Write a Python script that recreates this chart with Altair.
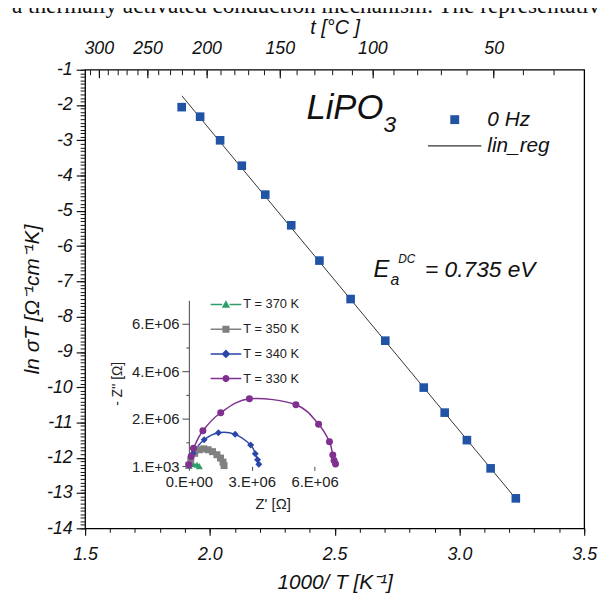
import altair as alt
import pandas as pd

FONT = "Liberation Sans"
SERIF = "Liberation Serif"
BLUE = "#2154A5"
INK = "#111111"

# ---------------- main Arrhenius data ----------------
inv_T = [1.887, 1.961, 2.041, 2.128, 2.222, 2.326, 2.439, 2.564, 2.703, 2.857, 2.941, 3.030, 3.125, 3.226]
ln_sigmaT = [-2.06, -2.33, -3.00, -3.72, -4.54, -5.41, -6.41, -7.50, -8.68, -10.01, -10.72, -11.50, -12.30, -13.15]
fit_inv_T = [1.888, 3.239]
fit_ln_sigmaT = [-1.74, -13.27]

# ---------------- axis ticks ----------------
x_major = [1.5, 2.0, 2.5, 3.0, 3.5]
x_minor = [round(1.5 + 0.1 * i, 1) for i in range(21)]
y_major = [float(v) for v in range(-1, -15, -1)]
y_minor = [round(-1 - 0.1 * i, 1) for i in range(131)]
t_major = [300, 250, 200, 150, 100, 50]
t_minor = list(range(310, 0, -10))
top_domain = [1.698, 3.404]

# ---------------- inset Nyquist data (units of 1e6 Ohm) ----------------
inset_names = ["T = 370 K", "T = 350 K", "T = 340 K", "T = 330 K"]
inset_colors = ["#2E9E6A", "#808080", "#2B45A8", "#80308F"]
re_370 = [0.0, 0.18, 0.39, 0.50]
im_370 = [0.02, 0.10, 0.07, 0.01]
re_350 = [0.0, 0.09, 0.28, 0.50, 0.71, 0.92, 1.13, 1.34, 1.51, 1.63, 1.68]
im_350 = [0.05, 0.26, 0.55, 0.70, 0.74, 0.70, 0.62, 0.49, 0.35, 0.18, 0.03]
re_340 = [0.02, 0.20, 0.73, 1.41, 2.21, 2.95, 3.17, 3.28, 3.34]
im_340 = [0.05, 0.55, 1.12, 1.42, 1.35, 0.90, 0.53, 0.28, 0.09]
re_330 = [0.0, 0.11, 0.22, 0.67, 1.52, 2.89, 5.11, 6.19, 6.71, 6.87, 6.93, 7.00]
im_330 = [0.07, 0.42, 0.76, 1.50, 2.26, 2.85, 2.60, 1.78, 1.04, 0.48, 0.25, 0.10]
inset_y_major = [1e3, 2e6, 4e6, 6e6]
inset_y_minor = [1e6, 3e6, 5e6]
inset_x_major = [0, 3e6, 6e6]

main_legend_names = ["0 Hz", "lin_reg"]
main_legend_colors = [BLUE, "#333333"]

# annotation pieces: text, x (1000/T), y (ln sigma T), font size
ann_text = ["LiPO", "3", "E", "a", "DC", "= 0.735 eV"]
ann_x = [2.387, 2.696, 2.656, 2.724, 2.755, 2.862]
ann_y = [-2.392, -2.765, -6.882, -7.106, -6.490, -6.882]
ann_size = [35, 23, 24, 16, 12, 23]

header_text = "a thermally activated conduction mechanism. The representative"

# ---------------- tables ----------------
main_df = pd.DataFrame({"inv_T": inv_T, "ln_sT": ln_sigmaT})
fit_df = pd.DataFrame({"inv_T": fit_inv_T, "ln_sT": fit_ln_sigmaT})
top_major_df = pd.DataFrame({"u": [1000.0 / (t + 273.15) for t in t_major]})
top_minor_df = pd.DataFrame({"u": [1000.0 / (t + 273.15) for t in t_minor]})
rows = []
for name, re, im in zip(inset_names, [re_370, re_350, re_340, re_330], [im_370, im_350, im_340, im_330]):
    for i, (a, b) in enumerate(zip(re, im)):
        rows.append({"name": name, "re": a * 1e6, "im": b * 1e6, "idx": i})
inset_df = pd.DataFrame(rows)
ann_df = pd.DataFrame({"text": ann_text, "x": ann_x, "y": ann_y, "fs": ann_size})
legend_df = pd.DataFrame({"name": main_legend_names})
header_df = pd.DataFrame({"text": [header_text]})

# ---------------- scales ----------------
W, H = 505, 464
X_MAIN = alt.Scale(domain=[1.5, 3.5], nice=False, zero=False)
Y_MAIN = alt.Scale(domain=[-14, -1], nice=False, zero=False)
X_TOP = alt.Scale(domain=top_domain, nice=False, zero=False)
X_IN = alt.Scale(domain=[0, 8e6], range=[105, 274.6], nice=False, zero=False)
Y_IN = alt.Scale(domain=[0, 7e6], range=[401.3, 233.3], nice=False, zero=False)
IN_X_OFFSET = -(H - 401.3)

common = dict(grid=False, tickColor=INK, labelColor=INK, titleColor=INK, labelFont=FONT, titleFont=FONT,
              titleFontWeight="normal", labelOverlap=False, labelFlush=False)

ax_bottom_major = alt.Axis(orient="bottom", values=x_major, format=".1f", tickSize=7, tickWidth=1.2,
                           domain=False, labelFontSize=18, labelFontStyle="italic", labelPadding=11,
                           title="1000/ T [K⁻¹]", titleFontSize=21, titleFontStyle="italic",
                           titlePadding=8, **common)
ax_bottom_minor = alt.Axis(orient="bottom", values=x_minor, tickSize=4, tickWidth=1, labels=False,
                           domain=False, title=None, grid=False, tickColor=INK)
ax_left_major = alt.Axis(orient="left", values=y_major, labelExpr="'' + datum.value", tickSize=9,
                         tickWidth=1.2, domain=False, labelFontSize=18, labelFontStyle="italic",
                         labelPadding=4, title="ln σT [Ω⁻¹cm⁻¹K]", titleFontSize=21,
                         titleFontStyle="italic", titlePadding=4, **common)
ax_left_minor = alt.Axis(orient="left", values=y_minor, tickSize=5, tickWidth=1, labels=False,
                         domain=False, title=None, grid=False, tickColor=INK)
ax_top_major = alt.Axis(orient="top", values=list(top_major_df["u"]), offset=-8, tickSize=8, tickWidth=1.2,
                        domain=False, labelExpr="format(1000 / datum.value - 273.15, '.0f')",
                        labelFontSize=18, labelFontStyle="italic", labelPadding=12,
                        title="t [°C ]", titleFontSize=20, titleFontStyle="italic", titlePadding=3, **common)
ax_top_minor = alt.Axis(orient="top", values=list(top_minor_df["u"]), offset=-5, tickSize=5, tickWidth=1,
                        labels=False, domain=False, title=None, grid=False, tickColor=INK)

sci = ("datum.value < 1 ? '0.E+00' : format(datum.value / pow(10, floor(log(datum.value) / LN10 + 1e-9)), '.0f')"
       " + '.E+' + format(floor(log(datum.value) / LN10 + 1e-9), '02d')")
in_common = dict(grid=False, tickColor="#444444", labelColor="#222222", titleColor="#222222", labelFont=FONT,
                 titleFont=FONT, titleFontWeight="normal", labelOverlap=False, labelFlush=False)
ax_in_x_major = alt.Axis(orient="bottom", offset=IN_X_OFFSET, values=inset_x_major, labelExpr=sci, tickSize=4,
                         domain=False, labelFontSize=15, labelPadding=4, title="Z' [Ω]",
                         titleFontSize=15, titlePadding=8, **in_common)
ax_in_y_major = alt.Axis(orient="left", offset=-105, values=inset_y_major, labelExpr=sci, tickSize=7,
                         domain=True, domainColor="#444444", labelFontSize=15, labelPadding=3,
                         title="- Z'' [Ω]", titleFontSize=14, titlePadding=7, **in_common)
ax_in_x_minor = alt.Axis(orient="bottom", offset=IN_X_OFFSET, values=inset_x_major, tickSize=0, labels=False,
                         domain=False, title=None, grid=False)
ax_in_y_minor = alt.Axis(orient="left", offset=-105, values=inset_y_minor, tickSize=3, labels=False,
                         domain=False, title=None, grid=False, tickColor="#444444")

# ---------------- layers ----------------
points = alt.Chart(main_df).mark_square(size=76, color=BLUE, opacity=1).encode(
    x=alt.X("inv_T:Q", scale=X_MAIN, axis=ax_bottom_major),
    y=alt.Y("ln_sT:Q", scale=Y_MAIN, axis=ax_left_major),
)
fitline = alt.Chart(fit_df).mark_line(color="#333333", strokeWidth=1).encode(
    x=alt.X("inv_T:Q", scale=X_MAIN, axis=ax_bottom_minor),
    y=alt.Y("ln_sT:Q", scale=Y_MAIN, axis=ax_left_minor),
)
top_major = alt.Chart(top_major_df).mark_point(opacity=0).encode(
    x=alt.X("u:Q", scale=X_TOP, axis=ax_top_major))
top_minor = alt.Chart(top_minor_df).transform_filter(
    f"datum.u <= {top_domain[1]}").mark_point(opacity=0).encode(
    x=alt.X("u:Q", scale=X_TOP, axis=ax_top_minor))

in_color = alt.Scale(domain=inset_names, range=inset_colors)
inset_lines = alt.Chart(inset_df).mark_line(strokeWidth=1.5, interpolate="cardinal").encode(
    x=alt.X("re:Q", scale=X_IN, axis=ax_in_x_major),
    y=alt.Y("im:Q", scale=Y_IN, axis=ax_in_y_major),
    color=alt.Color("name:N", scale=in_color, legend=None),
    order=alt.Order("idx:Q"),
)
inset_points = alt.Chart(inset_df).mark_point(filled=True, size=50, opacity=1).encode(
    x=alt.X("re:Q", scale=X_IN, axis=ax_in_x_minor),
    y=alt.Y("im:Q", scale=Y_IN, axis=ax_in_y_minor),
    color=alt.Color("name:N", scale=in_color, legend=None),
    shape=alt.Shape("name:N", scale=alt.Scale(domain=inset_names,
                                              range=["triangle-up", "square", "diamond", "circle"]), legend=None),
)

bar = "M-3.875,-0.19H-0.9V0.19H-3.875Z M0.9,-0.19H3.875V0.19H0.9Z "
inset_paths = [
    bar + "M0,-1.1L1.05,0.8H-1.05Z",
    bar + "M-0.9,-0.9H0.9V0.9H-0.9Z",
    bar + "M0,-1.1L1.1,0L0,1.1L-1.1,0Z",
    bar + "M-0.9,0A0.9,0.9 0 1,0 0.9,0A0.9,0.9 0 1,0 -0.9,0Z",
]
in_leg = dict(orient="none", legendX=136.0, legendY=231.0, title=None, padding=0, symbolSize=64,
              symbolStrokeWidth=0, symbolOpacity=1, labelFont=FONT, labelFontSize=13, labelColor="#222222",
              labelOffset=11.1, rowPadding=11.0)
inset_legend = alt.Chart(inset_df).transform_filter("false").mark_point(filled=True, size=64, opacity=1).encode(
    color=alt.Color("name:N", scale=alt.Scale(domain=inset_names, range=inset_colors), legend=alt.Legend(**in_leg)),
    shape=alt.Shape("name:N", scale=alt.Scale(domain=inset_names, range=inset_paths), legend=alt.Legend(**in_leg)),
)

main_paths = ["M-1,-1H1V1H-1Z", "M-6,-0.12H6V0.12H-6Z"]
mn_leg = dict(orient="none", legendX=363.5, legendY=40.0, title=None, padding=0, symbolSize=81,
              symbolStrokeWidth=0, symbolOpacity=1, labelFont=FONT, labelFontSize=21, labelFontStyle="italic",
              labelColor=INK, labelOffset=22.5, rowPadding=4.5)
main_legend = alt.Chart(legend_df).transform_filter("false").mark_point(filled=True, size=81, opacity=1).encode(
    color=alt.Color("name:N", scale=alt.Scale(domain=main_legend_names, range=main_legend_colors),
                    legend=alt.Legend(**mn_leg)),
    shape=alt.Shape("name:N", scale=alt.Scale(domain=main_legend_names, range=main_paths),
                    legend=alt.Legend(**mn_leg)),
)

annotations = alt.Chart(ann_df).mark_text(align="left", baseline="alphabetic", font=FONT, fontStyle="italic",
                                          color=INK).encode(
    x=alt.X("x:Q", scale=X_MAIN, axis=None),
    y=alt.Y("y:Q", scale=Y_MAIN, axis=None),
    text="text:N",
    size=alt.Size("fs:Q", scale=None, legend=None),
)

header = alt.Chart(header_df).mark_text(align="left", baseline="alphabetic", font=SERIF, fontSize=23.5,
                                        color=INK).encode(
    x=alt.value(-74), y=alt.value(-57), text="text:N")

chart = alt.layer(
    inset_lines, inset_points, fitline, points, top_major, top_minor,
    inset_legend, main_legend, annotations, header,
).resolve_scale(
    x="independent", y="independent", color="independent", shape="independent", size="independent"
).resolve_axis(
    x="independent", y="independent"
).resolve_legend(
    color="independent", shape="independent"
).properties(
    width=W, height=H,
    padding={"left": 78, "top": 59, "right": 17, "bottom": 66},
    autosize=alt.AutoSizeParams(type="none"),
).configure_view(
    stroke="black", strokeWidth=1.3
)

chart.save("out.html", embed_options={"renderer": "svg", "actions": False})
